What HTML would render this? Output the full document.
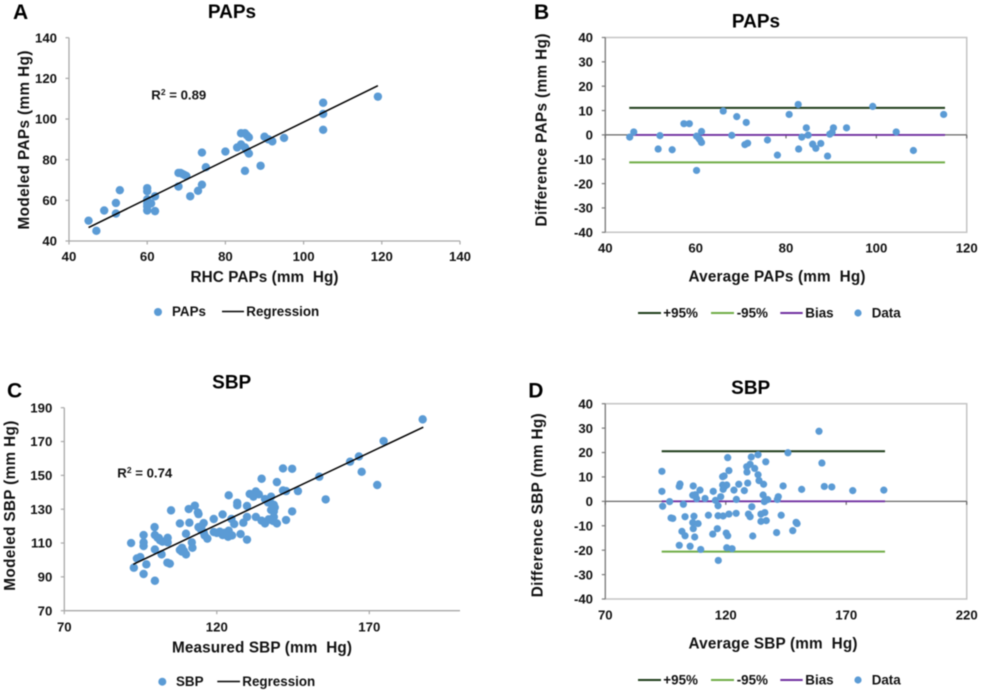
<!DOCTYPE html>
<html lang="en">
<head>
<meta charset="utf-8">
<title>PAPs and SBP regression and Bland-Altman charts</title>
<style>
html,body{margin:0;padding:0;background:#fff;}
svg{display:block;filter:blur(0.45px);}
text{font-family:"Liberation Sans",Arial,sans-serif;font-weight:bold;fill:#111;}
.tick{font-size:13.2px;}
.leg{font-size:13.4px;}
.title{font-size:19px;text-anchor:middle;fill:#000;}
.letter{font-size:21px;fill:#000;}
.axt{font-size:15.3px;text-anchor:middle;}
</style>
</head>
<body>
<svg id="fig" width="982" height="694" viewBox="0 0 982 694" xmlns="http://www.w3.org/2000/svg">
  <g id="grid-a"></g>
  <g id="grid-b"></g>
  <g id="grid-c"></g>
  <g id="grid-d"></g>
  <g id="marks-a"></g>
  <g id="marks-b"></g>
  <g id="marks-c"></g>
  <g id="marks-d"></g>

  <text class="letter" x="13" y="19">A</text>
  <text class="title" x="232" y="18">PAPs</text>
  <text class="axt" x="264.5" y="282" textLength="148">RHC PAPs (mm&#160;&#160;Hg)</text>
  <text class="axt" transform="translate(29,140) rotate(-90)" textLength="179">Modeled PAPs (mm Hg)</text>
  <text class="tick" x="151.3" y="99.5">R<tspan font-size="8.5" dy="-4.5">2</tspan><tspan dy="4.5"> = 0.89</tspan></text>
  <circle cx="158" cy="312" r="4" fill="#5b9bd5"></circle>
  <text class="leg" x="172" y="316">PAPs</text>
  <line x1="222" x2="244" y1="311.5" y2="311.5" stroke="#000" stroke-width="1.4"></line>
  <text class="leg" x="246.3" y="316">Regression</text>

  <text class="letter" x="534" y="19">B</text>
  <text class="title" x="756" y="27.5">PAPs</text>
  <text class="axt" x="777" y="281.7" textLength="177">Average PAPs (mm&#160;&#160;Hg)</text>
  <text class="axt" transform="translate(546.7,130) rotate(-90)" textLength="193">Difference PAPs (mm Hg)</text>
  <line x1="638" x2="661" y1="313" y2="313" stroke="#1f3d1a" stroke-width="2"></line>
  <text class="leg" x="663.3" y="317.7">+95%</text>
  <line x1="711" x2="734" y1="313" y2="313" stroke="#70ad47" stroke-width="2"></line>
  <text class="leg" x="736.7" y="317.7">-95%</text>
  <line x1="780.3" x2="802.7" y1="313" y2="313" stroke="#7030a0" stroke-width="2"></line>
  <text class="leg" x="805.3" y="317.7">Bias</text>
  <circle cx="858" cy="313" r="3.6" fill="#5b9bd5"></circle>
  <text class="leg" x="871.7" y="317.7">Data</text>

  <text class="letter" x="7" y="397.7">C</text>
  <text class="title" x="231.7" y="388.3">SBP</text>
  <text class="axt" x="262" y="652.7" textLength="180">Measured SBP (mm&#160;&#160;Hg)</text>
  <text class="axt" transform="translate(15,505.7) rotate(-90)" textLength="170">Modeled SBP (mm Hg)</text>
  <text class="tick" x="117.3" y="477.7">R<tspan font-size="8.5" dy="-4.5">2</tspan><tspan dy="4.5"> = 0.74</tspan></text>
  <circle cx="162.3" cy="681.7" r="4" fill="#5b9bd5"></circle>
  <text class="leg" x="176" y="686">SBP</text>
  <line x1="217.3" x2="240" y1="681.5" y2="681.5" stroke="#000" stroke-width="1.4"></line>
  <text class="leg" x="242.3" y="686">Regression</text>

  <text class="letter" x="528.3" y="397.7">D</text>
  <text class="title" x="750.7" y="394">SBP</text>
  <text class="axt" x="773" y="648.3" textLength="169">Average SBP (mm&#160;&#160;Hg)</text>
  <text class="axt" transform="translate(542.7,505.3) rotate(-90)" textLength="184">Difference SBP (mm Hg)</text>
  <line x1="638" x2="661" y1="680" y2="680" stroke="#1f3d1a" stroke-width="2"></line>
  <text class="leg" x="663.3" y="684.3">+95%</text>
  <line x1="711" x2="734" y1="680" y2="680" stroke="#70ad47" stroke-width="2"></line>
  <text class="leg" x="736.7" y="684.3">-95%</text>
  <line x1="780.3" x2="802.7" y1="680" y2="680" stroke="#7030a0" stroke-width="2"></line>
  <text class="leg" x="805.3" y="684.3">Bias</text>
  <circle cx="858" cy="680" r="3.6" fill="#5b9bd5"></circle>
  <text class="leg" x="871.7" y="684.3">Data</text>
</svg>
<script>
/* Panel A: PAPs regression */
const aXTicks = [40, 60, 80, 100, 120, 140];
const aYTicks = [40, 60, 80, 100, 120, 140];
const aX = [45,47,49,52,52,53,60,60,60,60,60,60,61,62,62,68,68,68.5,69,69.5,70,71,73,74,74,75,80,83,84,84,85,85.5,86,85,85.5,86,85,89,90,91,92,95,105,105,105,119];
const aY = [50,45,55,58.7,53.5,65,66,64.5,60.5,58.5,57,55,58.5,62,54.7,66.8,73.5,73.5,73,72.5,72,62,64.7,83.5,67.7,76.3,84,86,87.5,93,93,92,91,86,84.5,83,74.5,77,91.3,90,89,90.7,108,102.5,94.7,111];
const aFitX = [45, 119];
const aFitY = [46.6, 116.4];

/* Panel B: PAPs Bland-Altman */
const bXTicks = [40, 60, 80, 100, 120];
const bYTicks = [40, 30, 20, 10, 0, -10, -20, -30, -40];
const bX = [45.4,46.3,51.7,52.1,54.8,57.4,58.6,60.2,60.7,61.3,61,61.3,60.2,66.1,68,69.1,71.2,70.9,71.5,75.9,78.1,80.7,82.7,82.8,83.5,84.5,84.9,85.9,86.6,87.7,89.2,89.7,90.5,90.2,93.4,99.2,104.4,108.2,114.9];
const bY = [-0.9,1.2,-5.8,-0.3,-6.1,4.6,4.6,-0.5,-1.4,1.4,-2.1,-3.1,-14.6,9.8,-0.2,7.5,5.1,-4,-3.4,-2.1,-8.3,8.4,12.5,-5.8,-0.9,2.9,-0.1,-3.8,-5.5,-3.5,-8.7,0.3,2.9,1,2.9,11.7,1.2,-6.4,8.4];
const bLimitX = [45.3, 115.2];
const bUpper = 11.1;
const bLower = -11.3;
const bBias = 0;

/* Panel C: SBP regression */
const cXTicks = [70, 120, 170];
const cYTicks = [70, 90, 110, 130, 150, 170, 190];
const cX = [91.9,92.8,93.8,94.9,96,96,96,96,96.9,99.6,99.7,99.7,99.7,100.6,101.4,101.9,102.2,103.8,103.9,103.9,104.6,105,107.9,107.9,108.6,109.2,109.9,109.9,110.8,111,111.8,112,112.8,113.8,114,114,115.7,115,115.7,116.9,119,119,121,121.9,121.9,123.9,123.7,123.9,123.7,124.6,124.8,125.7,126.7,126.7,127.8,128.7,129.9,129.9,129.9,130.8,132,132.8,133.8,132.8,134.7,134.7,135.8,135.8,137.8,136.8,138.7,137.8,138.7,138.7,137.8,139.7,139.7,141.7,141.7,142.7,142.7,144.7,144.7,146.6,153.6,155.7,163.7,166.6,167.5,172.6,174.7,187.5,120,122.5,125,114.8,116,137,138.5,139,138,101,108.5];
const cY = [110,95.4,100.9,101.7,114.7,110.4,108.2,91.7,97.4,119.4,106.2,87.7,114.7,113.1,111.6,103.3,110.8,98.4,110.4,113.1,97.8,129.3,121.6,105.9,107.2,105.3,115.5,103.3,130.1,122,110.4,107.2,132.1,128.1,127.1,119.4,121.8,120,116.3,112.6,124.2,116.5,116.7,126.9,114.7,138.2,115.7,117.3,113.7,114.7,124.2,121.2,133.8,132.3,115.3,122,131.9,125.4,112,139,137.4,140.5,138.8,125.4,148,123.2,121.6,136,137.4,134,132.6,129.5,128.7,125.4,123.6,121.6,146,154.1,141.1,140.7,123.6,153.9,128.7,140.7,149.2,135.8,158.1,161.2,152.1,144.3,170.3,183.1,116,116,114.5,118,114.5,124,123,131,133,113,105];
const cFitX = [92.6, 187.7];
const cFitY = [97.4, 178.5];

/* Panel D: SBP Bland-Altman */
const dXTicks = [70, 120, 170, 220];
const dYTicks = [40, 30, 20, 10, 0, -10, -20, -30, -40];
const dX = [93.5,93.5,93.8,96.7,97.3,98,100.7,101,100.7,101.8,103.1,102.4,103.1,105.2,106.5,106.3,107.4,107.9,106.8,106.3,106.5,107.1,108.5,109.3,109.6,111.4,112.8,114.6,114.8,115.7,116.5,116.8,116.8,116.9,117.9,118.7,119.3,118.7,118.9,118.9,119.5,120.8,120.4,120.2,120.8,120.4,122.6,121.3,121.3,123.4,124.3,124.4,125.4,127.7,128.7,128.8,129.1,129.4,130.1,130.1,130.6,130.8,131.2,132,133.4,133.4,133.8,134.6,134.6,135.5,135.7,136.2,136,136.6,136.8,137.4,141.1,141.4,141.8,143,143.8,145.8,147.8,149.2,149.6,151.5,158.7,159.9,160.9,164,172.7,185.6];
const dY = [12.3,4.1,-2,-0.1,-6.8,-7,-18,7.1,6.1,-12.3,-14.1,-1.2,-6.3,-18.4,6.3,2.5,2.7,1.1,-6.1,-8.7,-11.2,-14.6,-9.1,4.6,-19.7,1.2,-5.7,-13.4,4.1,0.4,-11.2,-1.8,-5.9,-24.2,1.9,10.1,10.4,6.7,4.9,-6,6,17.9,6.7,-13,-14.1,-19,-19.4,12.6,-5.2,4.6,-4.9,0.8,7,4.4,14.2,12,7.5,-5.2,15.2,-6.3,18.2,-2.2,-14.2,13.5,19.1,10.9,8.5,-5.2,-8.2,2.6,7,-4.6,-0.1,16.2,-7.9,0.7,-12.8,0.8,1.9,-5.7,6.3,19.9,-12,-8.6,-9.1,4.9,28.7,15.7,6.1,5.9,4.4,4.6];
const dLimitX = [93.4, 186.1];
const dUpper = 20.5;
const dLower = -20.6;
const dBias = 0;

const SVG_NS = 'http://www.w3.org/2000/svg';

function make(parent, tag, attrs, txt) {
  const el = document.createElementNS(SVG_NS, tag);
  for (const k in attrs) el.setAttribute(k, attrs[k]);
  if (txt !== undefined) el.textContent = txt;
  parent.appendChild(el);
  return el;
}

function linear(d0, d1, r0, r1) {
  return function (v) { return r0 + (v - d0) * (r1 - r0) / (d1 - d0); };
}

function rule(parent, x1, y1, x2, y2, color, width, name) {
  const el = make(parent, 'line', { x1: x1, y1: y1, x2: x2, y2: y2, stroke: color, 'stroke-width': width });
  
  
  return el;
}

function label(parent, x, y, anchor, value, name) {
  const el = make(parent, 'text', { x: x, y: y, 'text-anchor': anchor, class: 'tick' }, String(value));
  
  
  return el;
}

function drawPoints(parent, xs, ys, sx, sy, radius, name) {
  xs.forEach(function (v, i) {
    const dot = make(parent, 'circle', { cx: sx(v), cy: sy(ys[i]), r: radius, fill: '#5b9bd5' });
    
    
  });
}

/* Regression panels: open L-shaped axes */
function regressionAxes(id, sx, sy, xTicks, yTicks, xEnd, yLabelX, xLabelY, prefix) {
  const g = document.getElementById(id);
  const y0 = sy(yTicks[0]);
  const yTop = sy(yTicks[yTicks.length - 1]);
  const x0 = sx(xTicks[0]);
  rule(g, x0, yTop, x0, y0, '#a8a8a8', 1.3, prefix + '-y-axis-line');
  rule(g, x0, y0, xEnd, y0, '#a8a8a8', 1.3, prefix + '-x-axis-line');
  yTicks.forEach(function (t) {
    rule(g, x0 - 3.5, sy(t), x0, sy(t), '#a8a8a8', 1.2, prefix + '-y-tick');
    label(g, yLabelX, sy(t) + 4.7, 'end', t, prefix + '-y-tick-label');
  });
  xTicks.forEach(function (t) {
    rule(g, sx(t), y0, sx(t), y0 + 3.5, '#a8a8a8', 1.2, prefix + '-x-tick');
    label(g, sx(t), xLabelY, 'middle', t, prefix + '-x-tick-label');
  });
}

/* Bland-Altman panels: framed plot with central zero axis */
function differenceAxes(id, sx, sy, xTicks, yTicks, yLabelX, xLabelY, prefix) {
  const g = document.getElementById(id);
  const left = sx(xTicks[0]);
  const right = sx(xTicks[xTicks.length - 1]);
  const top = sy(yTicks[0]);
  const bottom = sy(yTicks[yTicks.length - 1]);
  const frame = make(g, 'rect', { x: left, y: top, width: right - left, height: bottom - top, fill: 'none', stroke: '#c4c4c4', 'stroke-width': 1.5 });
  
  
  rule(g, left, top, left, bottom, '#7a7a7a', 1.2, prefix + '-y-axis-line');
  rule(g, left, sy(0), right, sy(0), '#666666', 1.2, prefix + '-zero-axis-line');
  yTicks.forEach(function (t) {
    rule(g, left - 3.5, sy(t), left, sy(t), '#7a7a7a', 1.2, prefix + '-y-tick');
    label(g, yLabelX, sy(t) + 4.7, 'end', t, prefix + '-y-tick-label');
  });
  xTicks.forEach(function (t) {
    rule(g, sx(t), sy(0), sx(t), sy(0) + 3.5, '#666666', 1.2, prefix + '-x-tick');
    label(g, sx(t), xLabelY, 'middle', t, prefix + '-x-tick-label');
  });
}

function drawLimits(parent, limitX, upper, lower, bias, sx, sy, prefix) {
  rule(parent, sx(limitX[0]), sy(bias), sx(limitX[1]), sy(bias), '#7030a0', 1.9, prefix + '-bias-line');
  rule(parent, sx(limitX[0]), sy(upper), sx(limitX[1]), sy(upper), '#1f3d1a', 2, prefix + '-upper-limit-line');
  rule(parent, sx(limitX[0]), sy(lower), sx(limitX[1]), sy(lower), '#70ad47', 2, prefix + '-lower-limit-line');
}

/* Panel A */
const sxA = linear(40, 140, 69, 460);
const syA = linear(40, 140, 241, 37.7);
regressionAxes('grid-a', sxA, syA, aXTicks, aYTicks, 460, 57, 261, 'panel-a');
const marksA = document.getElementById('marks-a');
drawPoints(marksA, aX, aY, sxA, syA, 4.2, 'panel-a-point');
rule(marksA, sxA(aFitX[0]), syA(aFitY[0]), sxA(aFitX[1]), syA(aFitY[1]), '#000', 1.5, 'panel-a-regression-line');

/* Panel B */
const sxB = linear(40, 120, 605.3, 966.7);
const syB = linear(-40, 40, 232.3, 37.5);
differenceAxes('grid-b', sxB, syB, bXTicks, bYTicks, 593, 252.7, 'panel-b');
const marksB = document.getElementById('marks-b');
drawLimits(marksB, bLimitX, bUpper, bLower, bBias, sxB, syB, 'panel-b');
drawPoints(marksB, bX, bY, sxB, syB, 3.6, 'panel-b-point');

/* Panel C */
const sxC = linear(70, 170, 64.3, 369.3);
const syC = linear(70, 190, 610.7, 407.7);
regressionAxes('grid-c', sxC, syC, cXTicks, cYTicks, 460, 52.3, 631.7, 'panel-c');
const marksC = document.getElementById('marks-c');
drawPoints(marksC, cX, cY, sxC, syC, 4.2, 'panel-c-point');
rule(marksC, sxC(cFitX[0]), syC(cFitY[0]), sxC(cFitX[1]), syC(cFitY[1]), '#000', 1.5, 'panel-c-regression-line');

/* Panel D */
const sxD = linear(70, 220, 605.3, 966.7);
const syD = linear(-40, 40, 599, 403.7);
differenceAxes('grid-d', sxD, syD, dXTicks, dYTicks, 593, 619.3, 'panel-d');
const marksD = document.getElementById('marks-d');
drawLimits(marksD, dLimitX, dUpper, dLower, dBias, sxD, syD, 'panel-d');
drawPoints(marksD, dX, dY, sxD, syD, 3.6, 'panel-d-point');
</script>
</body>
</html>
